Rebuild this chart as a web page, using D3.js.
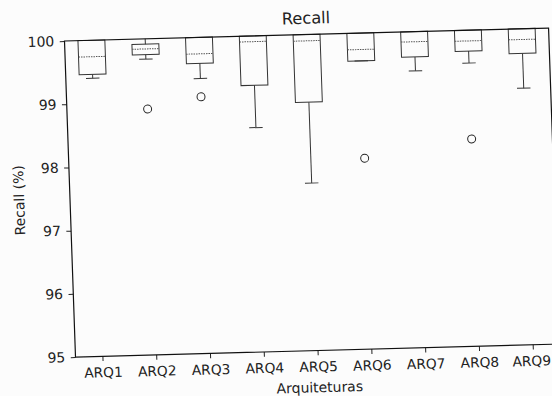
<!DOCTYPE html>
<html lang="en">
<head>
<meta charset="UTF-8">
<title>Recall</title>
<script src="https://d3js.org/d3.v7.min.js"></script>
<style>
  body { margin: 0; background: #fcfcfc; }
  text { font-family: "DejaVu Sans", sans-serif; fill: #222; }
</style>
</head>
<body>
<div id="chart"></div>
<script>

// data
var categories = ["ARQ1", "ARQ2", "ARQ3", "ARQ4", "ARQ5", "ARQ6", "ARQ7", "ARQ8", "ARQ9"];
var q1Values = [99.46, 99.75, 99.59, 99.22, 98.93, 99.56, 99.60, 99.67, 99.61];
var medianValues = [99.74, 99.84, 99.74, 99.91, 99.90, 99.74, 99.84, 99.83, 99.83];
var q3Values = [100, 99.915, 100, 100, 100, 100, 100, 100, 100];
var lowWhiskers = [99.40, 99.68, 99.35, 98.55, 97.65, 99.56, 99.38, 99.48, 99.06];
var highWhiskers = [100, 100, 100, 100, 100, 100, 100, 100, 100];
var outliers = [[], [98.89], [99.06], [], [], [98.02], [], [98.28], []];
var yTicks = [95, 96, 97, 98, 99, 100];

var width = 486, height = 317;

var svg = d3.select("#chart")
  .append("svg")
    .attr("width", 552)
    .attr("height", 396);

// the reference is a slightly tilted photo, so the whole plot is tilted too
var g = svg.append("g")
    .attr("transform", "matrix(0.996,-0.0267,0.0347,0.997,64.5,41)");

var x = d3.scalePoint()
    .domain(categories)
    .range([0, width])
    .padding(0.5);

var y = d3.scaleLinear()
    .domain([95, 100])
    .range([height, 0]);

var boxW = 27, capW = 13.5;
var rows = categories.map(function(c, i) {
  return {cat: c, q1: q1Values[i], med: medianValues[i], q3: q3Values[i],
          lo: lowWhiskers[i], hi: highWhiskers[i], out: outliers[i]};
});

// Y axis
var yAxis = g.append("g")
    .call(d3.axisLeft(y).tickValues(yTicks).tickFormat(d3.format("d")).tickSize(4.8).tickPadding(5.5));
yAxis.select(".domain").remove();
yAxis.selectAll("line").attr("stroke", "#222");
yAxis.selectAll("text").style("font-size", "14px").attr("fill", "#222");

// X axis
var xAxis = g.append("g")
    .attr("transform", "translate(0," + height + ")")
    .call(d3.axisBottom(x).tickSize(4.8).tickPadding(6.5));
xAxis.select(".domain").remove();
xAxis.selectAll("line").attr("stroke", "#222");
xAxis.selectAll("text").style("font-size", "13.8px").attr("fill", "#222");
// last label sits right at the page edge, pull it in a touch
xAxis.selectAll("text").filter(function(d) { return d === "ARQ9"; }).attr("dx", "-2");

// boxes
var box = g.append("g").selectAll("g")
  .data(rows)
  .enter()
  .append("g");

box.append("line")
    .attr("x1", function(d) { return x(d.cat); })
    .attr("x2", function(d) { return x(d.cat); })
    .attr("y1", function(d) { return y(d.q1); })
    .attr("y2", function(d) { return y(d.lo); })
    .attr("stroke", "#333");
box.append("line")
    .attr("x1", function(d) { return x(d.cat); })
    .attr("x2", function(d) { return x(d.cat); })
    .attr("y1", function(d) { return y(d.q3); })
    .attr("y2", function(d) { return y(d.hi); })
    .attr("stroke", "#333");
box.append("line")
    .attr("x1", function(d) { return x(d.cat) - capW / 2; })
    .attr("x2", function(d) { return x(d.cat) + capW / 2; })
    .attr("y1", function(d) { return y(d.lo); })
    .attr("y2", function(d) { return y(d.lo); })
    .attr("stroke", "#333");
box.append("rect")
    .attr("x", function(d) { return x(d.cat) - boxW / 2; })
    .attr("y", function(d) { return y(d.q3); })
    .attr("width", boxW)
    .attr("height", function(d) { return y(d.q1) - y(d.q3); })
    .attr("fill", "none")
    .attr("stroke", "#333");
box.append("line")
    .attr("x1", function(d) { return x(d.cat) - boxW / 2; })
    .attr("x2", function(d) { return x(d.cat) + boxW / 2; })
    .attr("y1", function(d) { return y(d.med); })
    .attr("y2", function(d) { return y(d.med); })
    .attr("stroke", "#555")
    .attr("stroke-dasharray", "1.5,1");

// outliers
box.selectAll("circle")
  .data(function(d) { return d.out.map(function(v) { return {cat: d.cat, v: v}; }); })
  .enter()
  .append("circle")
    .attr("cx", function(d) { return x(d.cat); })
    .attr("cy", function(d) { return y(d.v); })
    .attr("r", 4)
    .attr("fill", "none")
    .attr("stroke", "#222");

// frame
g.append("rect")
    .attr("width", width)
    .attr("height", height)
    .attr("fill", "none")
    .attr("stroke", "#111")
    .attr("stroke-width", 1.2);

// title and labels
g.append("text")
    .attr("x", width / 2)
    .attr("y", -16.5)
    .attr("dy", "0.35em")
    .style("text-anchor", "middle")
    .style("font-size", "16.3px")
    .text("Recall");

g.append("text")
    .attr("x", width / 2 + 1)
    .attr("y", height + 37)
    .attr("dy", "0.35em")
    .style("text-anchor", "middle")
    .style("font-size", "14px")
    .text("Arquiteturas");

g.append("text")
    .attr("transform", "rotate(-90)")
    .attr("x", -height / 2)
    .attr("y", -51)
    .attr("dy", "0.35em")
    .style("text-anchor", "middle")
    .style("font-size", "14px")
    .text("Recall (%)");
</script>
</body>
</html>
